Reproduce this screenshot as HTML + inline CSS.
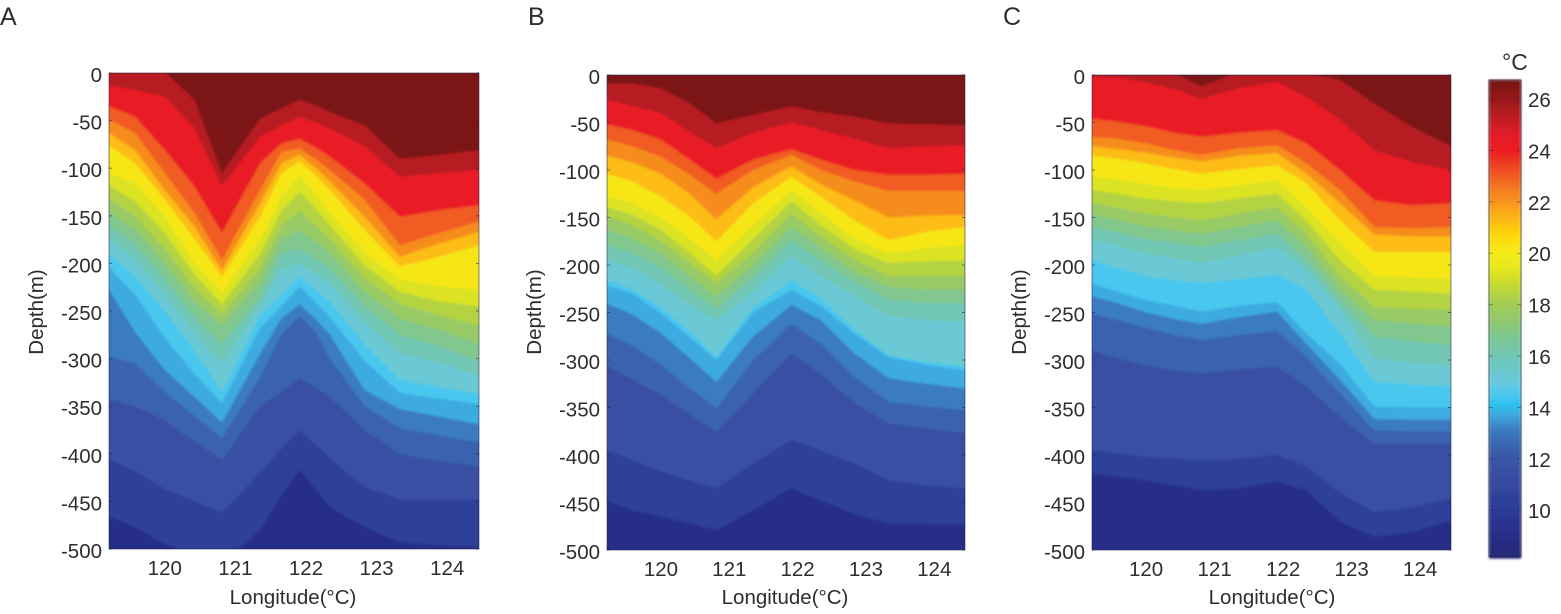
<!DOCTYPE html>
<html>
<head>
<meta charset="utf-8">
<title>Temperature sections</title>
<style>
html,body{margin:0;padding:0;background:#fff;width:1561px;height:614px;overflow:hidden}
svg{display:block}
text{font-family:"Liberation Sans",sans-serif;fill:#2e2e2e}
</style>
</head>
<body>
<svg id="fig" xmlns="http://www.w3.org/2000/svg" width="1561" height="614" viewBox="0 0 1561 614">
<defs>
<filter id="soft" filterUnits="userSpaceOnUse" x="0" y="0" width="1561" height="614"><feGaussianBlur stdDeviation="1.1"/></filter>
<filter id="softText" filterUnits="userSpaceOnUse" x="0" y="0" width="1561" height="614"><feGaussianBlur stdDeviation="0.35"/></filter>
</defs>
</svg>
<script>
// Longitudes of the isotherm knots (degrees)
const longitudesA = [119.21,119.58,120,120.42,120.81,121.35,121.65,121.91,122.13,122.34,122.83,123.33,123.89,124.45];
const longitudes = [119.21,119.58,120,120.42,120.81,121.35,121.91,122.34,122.83,123.33,123.89,124.45];
// Temperature of each isotherm (deg C), warm to cold
const tempLevels = [25.8,25,23.4,22.6,21.7,20.8,19.6,18.8,18,17.2,16.4,15.6,14.8,14.1,13.4,12.8,12.1,10.9,10];
const xTickLabels = [120,121,122,123,124];
const yTickLabels = [0,-50,-100,-150,-200,-250,-300,-350,-400,-450,-500];
const colorbarTicks = [26,24,22,20,18,16,14,12,10];
const colormapTemps = [26.75,26.6,26.1,25.5,24.7,24,23.2,22.5,22,21.3,20.7,20,19.4,18.8,18,17.2,16.5,15.8,15,14.5,14.1,13.7,13.2,12.7,12.2,11.2,10.5,9.7,9,8.2];
const colormapColors = ["#6e1113","#7b1315","#931719","#b01c21","#e01e26","#ed1c24","#f04e23","#f47a20","#f7941d","#fdb913","#ffd80b","#f4eb17","#e6e71f","#c6da2f","#a3cc55","#8cc877","#78c69f","#6ec7bd","#69c9dc","#4cc8ee","#2dc1f2","#3fa7dd","#3b80c3","#3a6ab3","#3a5aa8","#384ca2","#2f429a","#2b3793","#282e88","#262a77"];

// Isotherm depths (m) per level, per longitude
const depthsA = [
[-8,-8,-1,28,105,48,37,28,34,41,55,90,86,81],
[13,18,25,58,119,67,55,46,52,58,77,109,105,102],
[35,46,81,119,168,95,74,69,78,88,116,151,144,139],
[49,63,105,147,196,123,83,79,90,102,133,181,168,156],
[63,81,123,161,207,137,95,86,99,114,151,193,179,167],
[76,95,133,174,214,151,105,93,107,123,165,203,193,181],
[105,116,151,200,231,175,130,108,127,147,189,217,224,228],
[118,135,168,212,243,190,145,125,142,160,202,230,240,245],
[132,150,185,226,254,205,160,145,160,175,215,243,255,265],
[146,165,200,240,265,220,175,165,177,190,230,258,270,285],
[160,180,216,256,285,235,190,185,195,205,245,275,287,303],
[174,196,232,272,305,245,207,200,210,220,262,295,304,318],
[190,214,250,292,335,255,234,214,227,240,285,322,330,337],
[204,233,278,316,347,268,245,224,240,257,302,336,342,348],
[228,272,312,340,367,295,258,243,258,275,333,353,361,369],
[298,305,335,360,383,320,275,255,272,300,350,373,381,388],
[343,350,365,387,406,350,335,320,330,340,375,400,408,413],
[406,418,437,450,462,420,395,375,390,405,435,448,448,448],
[466,477,495,505,515,480,444,417,437,456,477,493,496,498]
];
const depthsB = [
[9,9,14,30,51,42,33,39,44,51,52,53],
[26,33,40,60,77,61,50,58,67,77,75,74],
[52,58,68,89,109,89,78,89,100,105,105,104],
[68,75,86,105,125,100,84,100,112,122,122,122],
[85,92,104,125,152,118,96,115,132,150,148,147],
[104,112,128,149,175,135,107,128,153,174,165,160],
[128,135,150,172,195,158,121,145,172,188,182,179],
[139,147,163,187,211,173,133,158,183,198,196,195],
[149,158,175,198,219,187,146,170,195,212,212,212],
[163,172,188,212,233,200,160,182,207,223,226,226],
[179,187,203,226,246,213,174,195,218,236,240,240],
[195,203,220,242,258,228,190,212,232,254,258,260],
[216,225,245,270,297,245,216,235,268,295,302,307],
[222,230,251,276,300,250,226,243,272,297,305,311],
[241,252,272,298,323,275,242,258,293,319,325,330],
[272,285,305,330,351,300,262,283,318,344,349,353],
[307,320,337,357,376,335,293,315,345,367,372,377],
[395,405,417,427,435,409,384,395,409,427,432,435],
[449,458,465,472,479,458,435,448,462,472,473,473]
];
const depthsC = [
[-6,-6,-4,-1,12,-3,-3,-1,5,30,55,75],
[2,3,8,15,25,14,7,23,47,79,92,100],
[46,49,54,61,65,61,58,72,100,132,137,135],
[65,67,72,79,84,77,74,93,121,160,161,160],
[75,78,82,87,91,85,82,104,135,168,170,170],
[85,88,93,99,104,99,95,114,153,186,186,186],
[107,110,115,119,121,116,111,139,177,211,213,214],
[121,125,130,133,135,130,125,153,195,226,228,230],
[135,140,146,150,153,146,139,167,212,244,246,247],
[147,153,160,164,167,160,153,181,226,258,262,265],
[160,166,173,177,181,174,167,195,237,275,280,285],
[174,180,188,193,198,190,181,205,246,298,303,307],
[195,203,212,216,219,215,210,226,272,323,326,328],
[219,228,237,243,249,243,239,272,304,349,350,350],
[233,240,250,257,262,255,249,283,321,362,363,363],
[251,258,266,274,279,274,269,297,335,374,375,375],
[290,298,306,311,314,310,307,328,360,388,388,388],
[395,398,402,404,406,404,400,412,440,460,455,445],
[419,423,427,432,437,435,428,437,470,486,481,469]
];

const NS = 'http://www.w3.org/2000/svg';
const svg = document.getElementById('fig');

function hexToRgb(h){return [parseInt(h.slice(1,3),16),parseInt(h.slice(3,5),16),parseInt(h.slice(5,7),16)];}
function tempColor(t){
  if(t>=colormapTemps[0])return colormapColors[0];
  for(let i=1;i<colormapTemps.length;i++){
    if(t>=colormapTemps[i]){
      const f=(t-colormapTemps[i])/(colormapTemps[i-1]-colormapTemps[i]);
      const a=hexToRgb(colormapColors[i]),b=hexToRgb(colormapColors[i-1]);
      return 'rgb('+a.map((v,k)=>Math.round(v+(b[k]-v)*f)).join(',')+')';
    }
  }
  return colormapColors[colormapColors.length-1];
}
function mk(tag,attrs,parent){
  const el=document.createElementNS(NS,tag);
  for(const k in attrs)el.setAttribute(k,attrs[k]);
  (parent||svg).appendChild(el);
  return el;
}
function label(parent,str,x,y,size,anchor,rot){
  const t=mk('text',{x:x,y:y,'font-size':size,'text-anchor':anchor||'middle'},parent);
  if(rot)t.setAttribute('transform','rotate('+rot+' '+x+' '+y+')');
  t.textContent=str;
  return t;
}

function drawPanel(name,letter,letterX,lons,depths,box){
  const lonMin=119.21,lonMax=124.45;
  const xScale=lon=>box.left+(lon-lonMin)/(lonMax-lonMin)*(box.right-box.left);
  const yScale=d=>box.top+d/500*(box.bottom-box.top);
  const g=mk('g',{});
  
  

  const clipId='clip-'+name;
  const cp=mk('clipPath',{id:clipId},g);
  mk('rect',{x:box.left,y:box.top,width:box.right-box.left,height:box.bottom-box.top},cp);
  const clipG=mk('g',{'clip-path':'url(#'+clipId+')'},g);
  const plot=mk('g',{filter:'url(#soft)'},clipG);
  
  

  const base=mk('rect',{x:box.left-12,y:box.top-12,width:box.right-box.left+24,height:box.bottom-box.top+24,fill:tempColor(26.6)},plot);
  
  

  depths.forEach((row,i)=>{
    const below=i<tempLevels.length-1?(tempLevels[i]+tempLevels[i+1])/2:9;
    const pts=[[box.left-12,yScale(row[0])]];
    row.forEach((d,k)=>pts.push([xScale(lons[k]),yScale(d)]));
    pts.push([box.right+12,yScale(row[row.length-1])]);
    pts.push([box.right+12,box.bottom+12]);
    pts.push([box.left-12,box.bottom+12]);
    const poly=mk('polygon',{points:pts.map(p=>p[0].toFixed(1)+','+p[1].toFixed(1)).join(' '),fill:tempColor(below)},plot);
    
    
  });

  const frame=mk('rect',{x:box.left,y:box.top,width:box.right-box.left,height:box.bottom-box.top,fill:'none',stroke:'#20204a','stroke-width':1,'stroke-opacity':0.55},g);
  
  

  const labels=mk('g',{filter:'url(#softText)'},g);
  yTickLabels.forEach(v=>{
    const y=yScale(-v);
    mk('line',{x1:box.left,x2:box.left+3,y1:y,y2:y,stroke:'#123','stroke-width':1,'stroke-opacity':0.55},g);
    mk('line',{x1:box.right-3,x2:box.right,y1:y,y2:y,stroke:'#123','stroke-width':1,'stroke-opacity':0.55},g);
    const t=label(labels,String(v),box.left-7,y+9,20.5,'end');
    
    
  });
  xTickLabels.forEach(v=>{
    const x=xScale(v);
    mk('line',{x1:x,x2:x,y1:box.bottom-3,y2:box.bottom,stroke:'#123','stroke-width':1,'stroke-opacity':0.4},g);
    const t=label(labels,String(v),x,box.bottom+26,20.5,'middle');
    
    
  });
  const xt=label(labels,'Longitude(°C)',box.xTitle,604,20.5,'middle');
  
  
  const yt=label(labels,'Depth(m)',box.yTitle,312,20.5,'middle',-90);
  
  
  const pl=label(g,letter,letterX,25,25,'start');
  pl.setAttribute('fill','#111');
  
  
}

drawPanel('a','A',0,longitudesA,depthsA,{left:109,right:479,top:73,bottom:549,xTitle:293,yTitle:43});
drawPanel('b','B',528,longitudes,depthsB,{left:607,right:965,top:75,bottom:550,xTitle:785,yTitle:541});
drawPanel('c','C',1003,longitudes,depthsC,{left:1092,right:1451,top:75,bottom:550,xTitle:1272,yTitle:1026});

// Colorbar
const cbTop=80,cbBottom=556.5,cbLeft=1489,cbRight=1521,cbMax=26.74,cbMin=8.2;
const cbY=t=>cbTop+(cbMax-t)/(cbMax-cbMin)*(cbBottom-cbTop);
const cb=mk('g',{});


const cbFill=mk('g',{filter:'url(#soft)'},cb);
for(let t=cbMax;t>cbMin;t-=0.1){
  mk('rect',{x:cbLeft,y:cbY(t).toFixed(2),width:cbRight-cbLeft,height:(cbY(t-0.1)-cbY(t)+0.6).toFixed(2),fill:tempColor(t-0.05)},cbFill);
}
const cbFrame=mk('rect',{x:cbLeft,y:cbTop,width:cbRight-cbLeft,height:cbBottom-cbTop,fill:'none',stroke:'#1f2a3a','stroke-width':1,'stroke-opacity':0.7},cb);


const cbLabels=mk('g',{filter:'url(#softText)'},cb);
colorbarTicks.forEach(v=>{
  const y=cbY(v);
  mk('line',{x1:cbLeft,x2:cbLeft+4,y1:y,y2:y,stroke:'#123','stroke-width':1,'stroke-opacity':0.4},cb);
  mk('line',{x1:cbRight-4,x2:cbRight,y1:y,y2:y,stroke:'#123','stroke-width':1,'stroke-opacity':0.4},cb);
  const t=label(cbLabels,String(v),1528,y+8,20.5,'start');
  
  
});
const unit=label(cbLabels,'°C',1502,70,23,'start');


</script>
</body>
</html>
